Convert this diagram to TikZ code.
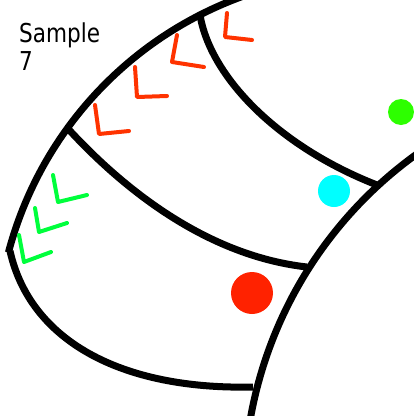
\documentclass[tikz,border=0pt]{standalone}
\usepackage{fontspec}
\setmainfont{DejaVu Sans}[FakeStretch=0.83]
\definecolor{chevred}{RGB}{255,51,0}
\definecolor{dotred}{RGB}{255,34,0}
\definecolor{chevgreen}{RGB}{0,255,60}
\definecolor{dotgreen}{RGB}{45,255,0}
\definecolor{dotcyan}{RGB}{0,255,255}
\begin{document}
\begin{tikzpicture}[x=1pt,y=-1pt,
  wall/.style={line width=7pt, black, line join=round},
  chev/.style={line width=4pt, line cap=round, line join=round},
  dot/.style={circle, inner sep=0pt, minimum size=#1, draw=none}]
\useasboundingbox (0,0) rectangle (414,416);
\clip (0,0) rectangle (414,416);
% junction points
\coordinate (top) at (200,15);
\coordinate (mid) at (67.4,128);
\coordinate (left) at (10,251);
\coordinate (ju) at (377,185);
\coordinate (jm) at (307,267);
\coordinate (jb) at (253,387);
% outer arc
\draw[wall] plot[domain=-108:-165.2, samples=90, smooth] ({370+374*cos(\x)},{348+374*sin(\x)});
% big circle
\draw[wall] plot[domain=189:238, samples=90, smooth] ({659+415*cos(\x)},{491+415*sin(\x)});
% dividers
\draw[wall] (top) .. controls (210,75) and (275,145) .. (ju);
\draw[wall] (mid) .. controls (115,180) and (200,255) .. (jm);
\draw[wall] (left) .. controls (30,340) and (120,390) .. (jb);
% red chevrons
\draw[chev, chevred] (227,13) -- (225,37) -- (252,40);
\draw[chev, chevred] (177,35) -- (172,62) -- (204,67);
\draw[chev, chevred] (135,67) -- (137,97) -- (167,96);
\draw[chev, chevred] (95,105) -- (99,134) -- (129,131);
% green chevrons
\draw[chev, chevgreen] (53,175) -- (58,202) -- (87,195);
\draw[chev, chevgreen] (35,208) -- (39,232) -- (67,223);
\draw[chev, chevgreen] (19,235) -- (24,262) -- (51,252);
% dots
\node[dot=42pt, fill=dotred] (reddot) at (252,293) {};
\node[dot=32pt, fill=dotcyan] (cyandot) at (334,191) {};
\node[dot=26pt, fill=dotgreen] (greendot) at (401,112) {};
% label
\node[anchor=base west, inner sep=0pt, font=\fontsize{26}{28}\selectfont] (lbl1) at (19,42) {Sample};
\node[anchor=base west, inner sep=0pt, font=\fontsize{26}{28}\selectfont] (lbl2) at (19,70) {7};
\end{tikzpicture}
\end{document}
